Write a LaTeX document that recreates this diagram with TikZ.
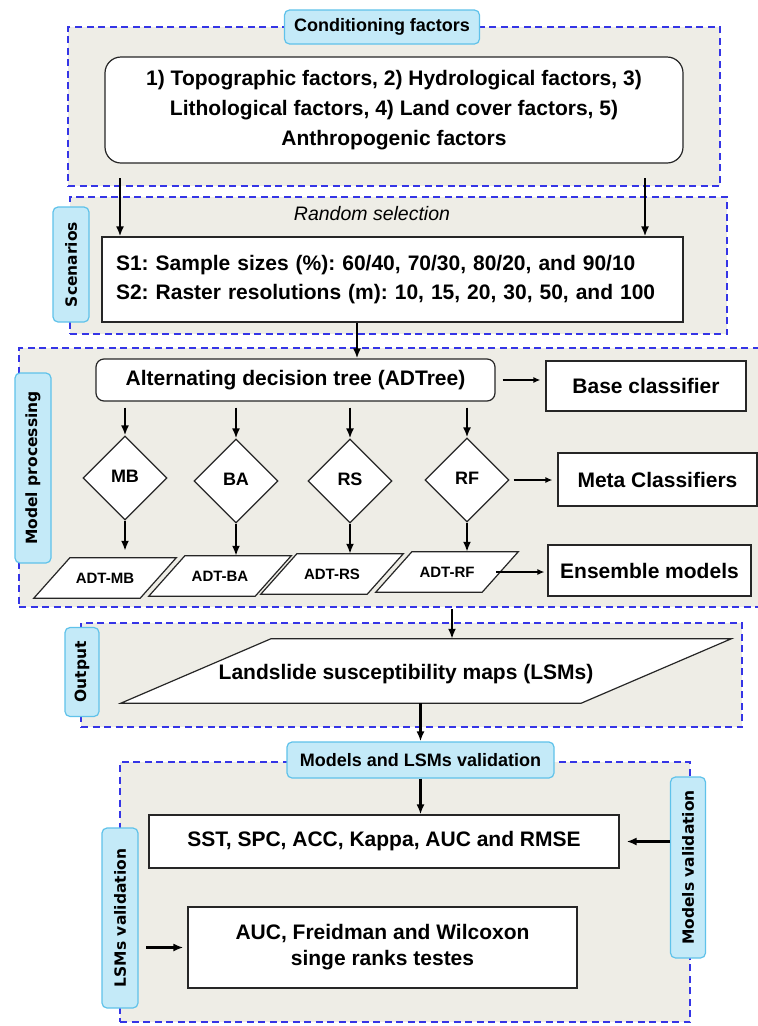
\documentclass[tikz,border=0pt]{standalone}
\usepackage{fontspec}
\setmainfont{Liberation Sans}
\newfontfamily\vfont{DejaVu Sans}
\usetikzlibrary{arrows.meta,shapes.geometric,calc}
\definecolor{panelfill}{HTML}{EEEDE6}
\definecolor{dashblue}{HTML}{3535E6}
\definecolor{labfill}{HTML}{C4EAF8}
\definecolor{labdraw}{HTML}{5FC2EA}
\tikzset{
  panel/.style={draw=dashblue, fill=panelfill, dash pattern=on 7pt off 4.5pt, line width=1.8pt, inner sep=0pt, rectangle},
  lab/.style={draw=labdraw, fill=labfill, rounded corners=5pt, line width=1.2pt, inner sep=0pt,
    font=\fontsize{18}{20}\selectfont\bfseries},
  vlab/.style={lab, rotate=90, font=\vfont\fontsize{15.5}{18}\selectfont\bfseries},
  box/.style={draw=black!85, fill=white, line width=1.2pt, inner sep=0pt, rectangle,
    font=\fontsize{21}{30}\selectfont\bfseries, align=center},
  dia/.style={diamond, draw=black!85, fill=white, line width=1.2pt, inner sep=0pt,
    minimum width=84pt, minimum height=84pt, font=\fontsize{18}{20}\selectfont\bfseries},
  pframe/.style={rectangle, inner sep=0pt, minimum width=142pt, minimum height=40pt},
  pshape/.style={draw=black!85, fill=white, line width=1.2pt, line join=miter},
  ptext/.style={font=\fontsize{15}{18}\selectfont\bfseries, inner sep=0pt},
  arr/.style={-{Latex[length=10pt,width=8pt]}, line width=2.5pt},
  arrs/.style={-{Latex[length=7pt,width=6pt]}, line width=1.3pt}
}
\begin{document}
\frenchspacing
\begin{tikzpicture}[x=1pt,y=-1pt]
\useasboundingbox[fill=white] (0,0) rectangle (758,1026);

% panels
\node[panel, minimum width=652pt, minimum height=159pt] (p1) at (394,106.5) {};
\node[panel, minimum width=657pt, minimum height=137pt] (p2) at (398.5,265.5) {};
\node[panel, minimum width=741pt, minimum height=259pt] (p3) at (389.5,477.5) {};
\node[panel, minimum width=661pt, minimum height=104pt] (p4) at (411.5,675) {};
\node[panel, minimum width=570pt, minimum height=260pt] (p5) at (405,892) {};

% labels
\node[lab, minimum width=195pt, minimum height=34pt] (lcond) at (382,27) {Conditioning factors};
\node[vlab, minimum width=115pt, minimum height=36pt] (lscen) at (71,264.5) {Scenarios};
\node[vlab, minimum width=190pt, minimum height=36pt] (lmod) at (33,468) {Model processing};
\node[vlab, minimum width=89pt, minimum height=34pt] (lout) at (82,672) {Output};
\node[lab, minimum width=267pt, minimum height=36pt] (lval) at (420.5,760) {Models and LSMs validation};
\node[vlab, minimum width=180pt, minimum height=36pt] (llsm) at (120,918) {LSMs validation};
\node[vlab, minimum width=181pt, minimum height=35pt] (lmv) at (688,867.5) {Models validation};

% panel 1
\node[box, rounded corners=16pt, minimum width=578pt, minimum height=106pt] (fac) at (394,110)
  {1) Topographic factors, 2) Hydrological factors, 3)\\Lithological factors, 4) Land cover factors, 5)\\Anthropogenic factors};

% panel 2
\node[font=\fontsize{19.5}{22}\selectfont\itshape] (rsel) at (372,214) {Random selection};
\node[box, text width=553pt, align=left, inner xsep=14pt, minimum height=85pt,
  font=\fontsize{21}{29}\selectfont\bfseries] (scen) at (392.5,279.5)
  {S1: Sample sizes (\%): 60/40, 70/30, 80/20, and 90/10\\S2: Raster resolutions (m): 10, 15, 20, 30, 50, and 100};

% panel 3
\node[box, rounded corners=8pt, minimum width=399pt, minimum height=42pt] (adt) at (295.5,380) {Alternating decision tree (ADTree)};
\node[box, minimum width=200pt, minimum height=50pt] (base) at (646,386) {Base classifier};
\node[box, minimum width=199pt, minimum height=53pt] (meta) at (657.5,479.5) {Meta Classifiers};
\node[box, minimum width=203pt, minimum height=51pt] (ens) at (649.5,570.5) {Ensemble models};

\node[dia] (mb) at (125,478) {\raisebox{4pt}{MB}};
\node[dia] (ba) at (236,481) {\raisebox{4pt}{BA}};
\node[dia] (rs) at (350,481) {\raisebox{4pt}{RS}};
\node[dia] (rf) at (467,480) {\raisebox{4pt}{RF}};

% parallelograms (ADT-*)
\foreach \n/\x/\y/\t in {amb/105/578/ADT-MB, aba/220/576/ADT-BA, ars/332/574/ADT-RS, arf/447/572/ADT-RF}{
  \node[pframe] (\n) at (\x,\y) {};
  \draw[pshape] (\n.south west) -- ([xshift=36pt]\n.north west) -- (\n.north east) -- ([xshift=-36pt]\n.south east) -- cycle;
  \node[ptext] at (\n) {\t};
}

% panel 4
\node[rectangle, inner sep=0pt, minimum width=610pt, minimum height=64pt] (lsm) at (426,671) {};
\draw[pshape] (lsm.south west) -- ([xshift=150pt]lsm.north west) -- (lsm.north east) -- ([xshift=-150pt]lsm.south east) -- cycle;
\node[font=\fontsize{21}{30}\selectfont\bfseries] at ([xshift=-20pt,yshift=-3pt]lsm.center) {Landslide susceptibility maps (LSMs)};

% panel 5
\node[box, minimum width=470pt, minimum height=53pt] (sst) at (384,841.5) {SST, SPC, ACC, Kappa, AUC and RMSE};
\node[box, minimum width=389pt, minimum height=81pt, font=\fontsize{21}{26}\selectfont\bfseries] (auc) at (382.5,947.5)
  {AUC, Freidman and Wilcoxon\\singe ranks testes};

% connectors
\coordinate (c1) at (120,178);
\coordinate (c2) at (645,178);
\draw[arr] (c1) -- (c1 |- scen.north);
\draw[arr] (c2) -- (c2 |- scen.north);
\draw[arr] ([xshift=-35.5pt]scen.south) -- ([xshift=-35.5pt]scen.south |- adt.north);
\draw[arrs, shorten <=7pt, shorten >=5pt] (adt.east) -- (adt.east -| base.west);
\foreach \d in {mb,ba,rs,rf}{
  \draw[arr, shorten <=6pt] (adt.south -| \d.north) -- (\d.north);
}
\draw[arr, shorten >=7pt] (mb.south) -- (mb.south |- amb.north);
\draw[arr] (ba.south) -- (ba.south |- aba.north);
\draw[arr] (rs.south) -- (rs.south |- ars.north);
\draw[arr] (rf.south) -- (rf.south |- arf.north);
\draw[arrs, shorten <=4pt, shorten >=5pt] (rf.east) -- (rf.east -| meta.west);
\draw[arrs, shorten <=-4pt, shorten >=3pt] ([xshift=-18pt]arf.east) -- (arf.east -| ens.west);
\coordinate (c3) at (452,609);
\draw[arr] (c3) -- (c3 |- lsm.north);
\draw[arr] (lval.north |- lsm.south) -- (lval.north);
\draw[arr] (lval.south) -- (lval.south |- sst.north);
\draw[arr, shorten <=18pt, shorten >=7pt] (sst.east -| lmv.center) -- (sst.east);
\draw[arr, shorten <=26pt, shorten >=4pt] (auc.west -| llsm.center) -- (auc.west);
\end{tikzpicture}
\end{document}
